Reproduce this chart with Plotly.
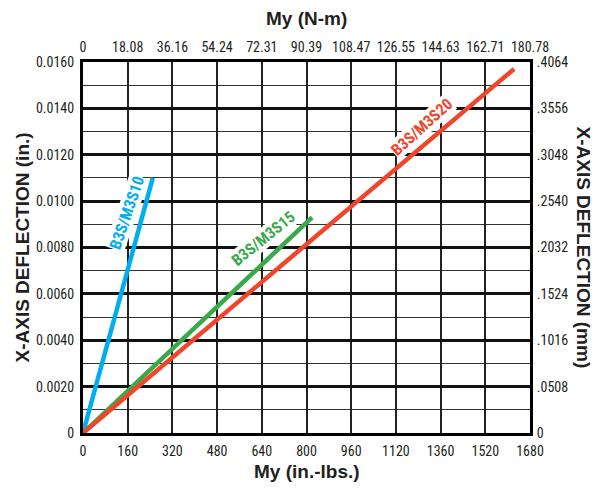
import plotly.graph_objects as go

# Data (in.-lbs. vs in.)
s10_x = [0, 250]
s10_y = [0, 0.0110]
s15_x = [0, 820]
s15_y = [0, 0.0093]
s20_x = [0, 1543]
s20_y = [0, 0.01570]

x_tickvals = [0, 160, 320, 480, 640, 800, 960, 1120, 1280, 1440, 1600]
x_bottom_text = ["0", "160", "320", "480", "640", "800", "960", "1120", "1360", "1520", "1680"]
x_top_text = ["0", "18.08", "36.16", "54.24", "72.31", "90.39", "108.47", "126.55", "144.63", "162.71", "180.78"]
y_tickvals = [0, 0.002, 0.004, 0.006, 0.008, 0.010, 0.012, 0.014, 0.016]
y_left_text = ["0", "0.0020", "0.0040", "0.0060", "0.0080", "0.0100", "0.0120", "0.0140", "0.0160"]
y_right_text = ["0", ".0508", ".1016", ".1524", ".2032", ".2540", ".3048", ".3556", ".4064"]

BLUE = "#00aeef"
GREEN = "#3aaa49"
RED = "#f0452a"
NARROW = "Liberation Sans Narrow, Arial Narrow, Roboto Condensed, Liberation Sans, sans-serif"
BOLD = "Liberation Sans, Arial, Helvetica, sans-serif"

fig = go.Figure()
for xs, ys, c in [(s10_x, s10_y, BLUE), (s15_x, s15_y, GREEN), (s20_x, s20_y, RED)]:
    fig.add_trace(go.Scatter(x=xs, y=ys, mode="lines", line=dict(color=c, width=4.5),
                             showlegend=False, hoverinfo="skip", cliponaxis=False))

# invisible trace for top/right axes
fig.add_trace(go.Scatter(x=[0], y=[0], xaxis="x2", yaxis="y2", mode="markers",
                         marker=dict(opacity=0), showlegend=False, hoverinfo="skip"))

tickfont = dict(family=NARROW, size=14, color="#231f20")
hidden_tick = dict(ticks="outside", ticklen=3, tickcolor="rgba(0,0,0,0)")
fig.update_layout(
    width=595, height=491,
    margin=dict(l=83, r=65, t=62, b=58),
    paper_bgcolor="white", plot_bgcolor="white",
    xaxis=dict(range=[0, 1600], tickvals=x_tickvals, ticktext=x_bottom_text,
               showgrid=True, gridcolor="#222", gridwidth=1.6,
               showline=True, linecolor="black", linewidth=3, mirror=True,
               tickfont=tickfont, zeroline=False, automargin=False, **hidden_tick),
    yaxis=dict(range=[0, 0.016], tickvals=y_tickvals, ticktext=y_left_text,
               showgrid=True, gridcolor="#111", gridwidth=2.6,
               minor=dict(dtick=0.001, showgrid=True, gridcolor="#333", gridwidth=1.4),
               showline=True, linecolor="black", linewidth=3, mirror=True,
               tickfont=tickfont, zeroline=False, automargin=False, **hidden_tick),
    xaxis2=dict(range=[0, 1600], overlaying="x", side="top", tickvals=x_tickvals,
                ticktext=x_top_text, showgrid=False, tickfont=tickfont,
                zeroline=False, automargin=False, **hidden_tick),
    yaxis2=dict(range=[0, 0.016], overlaying="y", side="right", tickvals=y_tickvals,
                ticktext=y_right_text, showgrid=False, tickfont=tickfont,
                zeroline=False, automargin=False, **hidden_tick),
)

titlefont = dict(family=BOLD, size=19, color="#231f20", weight="bold")
common = dict(xref="paper", yref="paper", showarrow=False, font=titlefont,
              xanchor="center", yanchor="middle")
fig.add_annotation(text="My (N-m)", x=0.5, y=1.0, yshift=44, **common)
fig.add_annotation(text="My (in.-lbs.)", x=0.5, y=0.0, yshift=-38, **common)
fig.add_annotation(text="X-AXIS DEFLECTION (in.)", x=0.0, y=0.5, xshift=-61,
                   textangle=-90, **common)
fig.add_annotation(text="X-AXIS DEFLECTION (mm)", x=1.0, y=0.5, xshift=53,
                   textangle=90, **common)

labfont = dict(family=NARROW, size=16, weight="bold")
fig.add_annotation(text="B3S/M3S10", x=158, y=0.0095, textangle=-71,
                   showarrow=False, bgcolor="white", borderpad=0,
                   font=dict(labfont, color=BLUE))
fig.add_annotation(text="B3S/M3S15", x=645, y=0.0084, textangle=-39,
                   showarrow=False, bgcolor="white", borderpad=0,
                   font=dict(labfont, color=GREEN))
fig.add_annotation(text="B3S/M3S20", x=1215, y=0.0132, textangle=-42,
                   showarrow=False, bgcolor="white", borderpad=0,
                   font=dict(labfont, color=RED))

fig.write_html("out.html", config={"displayModeBar": False},
               post_script="document.body.style.margin='0';")
